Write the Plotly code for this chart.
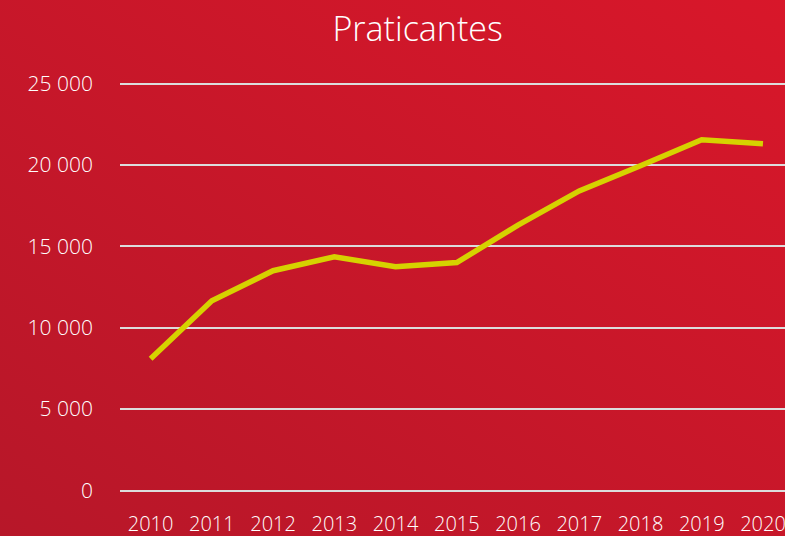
import base64
import plotly.graph_objects as go

years = [2010, 2011, 2012, 2013, 2014, 2015, 2016, 2017, 2018, 2019, 2020]
praticantes = [8100, 11650, 13500, 14350, 13750, 14000, 16300, 18400, 19950, 21550, 21300]
y_ticks = [0, 5000, 10000, 15000, 20000, 25000]
y_tick_labels = ["0", "5 000", "10 000", "15 000", "20 000", "25 000"]
title_text = "Praticantes"

W, H = 785, 536
ML, MR, MT, MB = 120, 0, 60, 26

svg = (
    '<svg xmlns="http://www.w3.org/2000/svg" width="785" height="536" preserveAspectRatio="none">'
    '<defs><linearGradient id="g" x1="0" y1="1" x2="1" y2="0">'
    '<stop offset="0" stop-color="#B71729"/>'
    '<stop offset="1" stop-color="#D8172A"/>'
    '</linearGradient></defs>'
    '<rect width="785" height="536" fill="url(#g)"/></svg>'
)
src = "data:image/svg+xml;base64," + base64.b64encode(svg.encode()).decode()

pw = W - ML - MR
ph = H - MT - MB

fig = go.Figure()
fig.add_trace(go.Scatter(
    x=years, y=praticantes, mode="lines",
    line=dict(color="#D6D200", width=5.5),
    hoverinfo="skip", showlegend=False,
))

fig.update_layout(
    width=W, height=H,
    margin=dict(l=ML, r=MR, t=MT, b=MB, pad=0),
    paper_bgcolor="#C81729",
    plot_bgcolor="rgba(0,0,0,0)",
    font=dict(family="Open Sans", color="white"),
    title=dict(text=title_text, x=0.532, xanchor="center", y=1 - 29 / H, yanchor="middle",
               font=dict(size=34, color="white", family="Open Sans", weight=300)),
    images=[dict(source=src, xref="paper", yref="paper",
                 x=-ML / pw, y=1 + MT / ph, sizex=W / pw, sizey=H / ph,
                 xanchor="left", yanchor="top", sizing="stretch", layer="below")],
    showlegend=False,
)

fig.update_xaxes(
    range=[2009.5, 2020.36], tickvals=years, ticktext=[str(y) for y in years],
    showgrid=False, zeroline=False, showline=False, ticks="",
    ticklabeloverflow="allow",
    tickfont=dict(size=20, color="white", family="Open Sans", weight=300),
)

px_per = 407 / 25000
top_val = (490.5 - MT) / px_per
bot_val = -((H - MB) - 490.5) / px_per
fig.update_yaxes(
    range=[bot_val, top_val], tickvals=y_ticks, ticktext=y_tick_labels,
    showgrid=True, gridcolor="#DCDCDC", gridwidth=2,
    zeroline=False, showline=False, ticks="",
    ticklabelstandoff=26,
    tickfont=dict(size=21, color="white", family="Open Sans", weight=300),
)

fig.write_html(
    "out.html",
    config={"displayModeBar": False},
    post_script="document.body.style.margin='0';document.body.style.overflow='hidden';",
)
